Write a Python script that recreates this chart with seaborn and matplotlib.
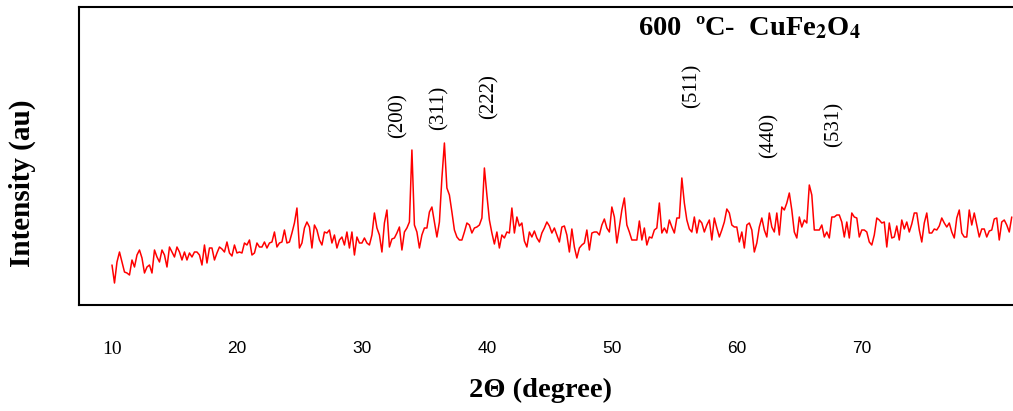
import matplotlib.pyplot as plt
import seaborn as sns
import numpy as np
import pandas as pd

# XRD pattern of CuFe2O4 annealed at 600 C (step 0.2 deg)
two_theta_start = 10.0
two_theta_step = 0.2
intensity = [
    # 10.0 - 21.6
    40, 22, 43, 53, 43, 33, 32, 30, 45, 38,
    50, 55, 47, 32, 38, 40, 32, 55, 48, 43,
    55, 50, 38, 58, 53, 48, 58, 53, 45, 53,
    45, 52, 48, 53, 53, 50, 40, 60, 42, 57,
    57, 45, 52, 58, 56, 53, 63, 52, 49, 60,
    52, 53, 52, 62, 60, 65, 50, 52, 62,
    # 21.8 - 33.2
    58, 58, 63, 57, 62, 63, 73, 58, 62, 63,
    75, 62, 63, 72, 82, 97, 57, 62, 77, 83,
    78, 57, 80, 75, 65, 60, 73, 72, 75, 62,
    70, 57, 65, 68, 60, 73, 57, 73, 50, 68,
    62, 62, 67, 62, 60, 70, 92, 77, 70, 53,
    82, 95, 58, 66, 67, 72, 78, 55,
    # 33.4 - 45.2
    73, 77, 83, 155, 80, 73, 57, 70, 77, 77,
    93, 98, 83, 68, 83, 127, 162, 117, 110, 93,
    75, 68, 65, 65, 73, 82, 80, 72, 77, 78,
    80, 87, 137, 110, 85, 72, 61, 73, 57, 70,
    67, 73, 72, 97, 72, 88, 79, 82, 64, 58,
    73, 68, 74, 67, 63, 72, 77, 83, 79, 72,
    # 45.4 - 57.2
    77, 70, 63, 78, 79, 70, 53, 76, 58, 47,
    57, 60, 62, 75, 55, 72, 73, 73, 70, 80,
    86, 77, 73, 98, 88, 62, 78, 95, 107, 80,
    73, 65, 65, 65, 84, 65, 77, 60, 68, 67,
    75, 77, 102, 72, 77, 72, 85, 78, 72, 87,
    87, 127, 102, 85, 76, 73, 88, 72, 85, 82,
    # 57.4 - 69.2
    73, 80, 85, 65, 87, 77, 68, 75, 83, 96,
    92, 80, 78, 78, 63, 73, 57, 80, 82, 75,
    53, 62, 78, 87, 75, 68, 92, 78, 73, 92,
    70, 98, 95, 102, 112, 95, 73, 67, 88, 78,
    85, 82, 120, 110, 75, 75, 75, 80, 68, 73,
    67, 88, 88, 90, 90, 83, 68, 83, 67, 92,
    # 69.4 - 82.0
    88, 87, 68, 75, 75, 73, 63, 60, 70, 87,
    85, 82, 83, 58, 82, 67, 68, 79, 65, 85,
    76, 83, 73, 81, 92, 92, 75, 63, 82, 92,
    72, 72, 76, 75, 79, 87, 82, 78, 82, 73,
    67, 87, 95, 72, 68, 68, 95, 80, 92, 80,
    68, 76, 76, 68, 74, 75, 86, 87, 65, 83,
    85, 80, 73, 88,
]
two_theta = two_theta_start + two_theta_step * np.arange(len(intensity))

# Miller indices and where their labels sit
hkl_labels = ["(200)", "(311)", "(222)", "(511)", "(440)", "(531)"]
hkl_x = [32.9, 36.2, 40.2, 56.4, 62.6, 67.8]
hkl_y = [189, 197, 208, 219, 170, 181]

tick_values = [10, 20, 30, 40, 50, 60, 70]

df = pd.DataFrame({"two_theta": two_theta, "intensity": intensity})

sns.set_style("white")
plt.rcParams["font.family"] = ["Liberation Serif", "DejaVu Serif"]
plt.rcParams["mathtext.fontset"] = "stix"
plt.rcParams["text.color"] = "black"

fig = plt.figure(figsize=(10.13, 4.11), dpi=100)
ax = fig.add_axes([79 / 1013, 1 - 305 / 411, 1 - 79 / 1013, 298 / 411])

sns.lineplot(data=df, x="two_theta", y="intensity", color="red", linewidth=1.1, ax=ax)

ax.set_xlim(7.36, 82.1)
ax.set_ylim(0, 298)
ax.set_yticks([])
ax.set_xticks(tick_values)
ax.set_xticklabels([str(v) for v in tick_values])
ax.tick_params(axis="x", length=0, pad=26, labelsize=12.5, labelcolor="black")
for i, lab in enumerate(ax.get_xticklabels()):
    if i == 0:
        lab.set_fontfamily("Liberation Serif")
        lab.set_fontsize(14)
    else:
        lab.set_fontfamily("Liberation Sans")
ax.set_xlabel("")
ax.set_ylabel("")

for side in ["left", "top", "bottom"]:
    ax.spines[side].set_linewidth(1.5)
    ax.spines[side].set_color("black")
ax.spines["right"].set_visible(False)

for lab, x, y in zip(hkl_labels, hkl_x, hkl_y):
    ax.text(x, y, lab, rotation=90, ha="center", va="center", fontsize=15)

fig.text(638 / 1013, 1 - 28 / 411, r"600  ºC-  CuFe$_\mathbf{2}$O$_\mathbf{4}$",
         fontsize=20.5, fontweight="bold", ha="left", va="center")
fig.text(540 / 1013, 1 - 390 / 411, "2Θ (degree)", fontsize=20.5, fontweight="bold",
         ha="center", va="center")
fig.text(22 / 1013, 1 - 183 / 411, "Intensity (au)", fontsize=21, fontweight="bold",
         rotation=90, ha="center", va="center")

plt.savefig("out.png", dpi=100)
